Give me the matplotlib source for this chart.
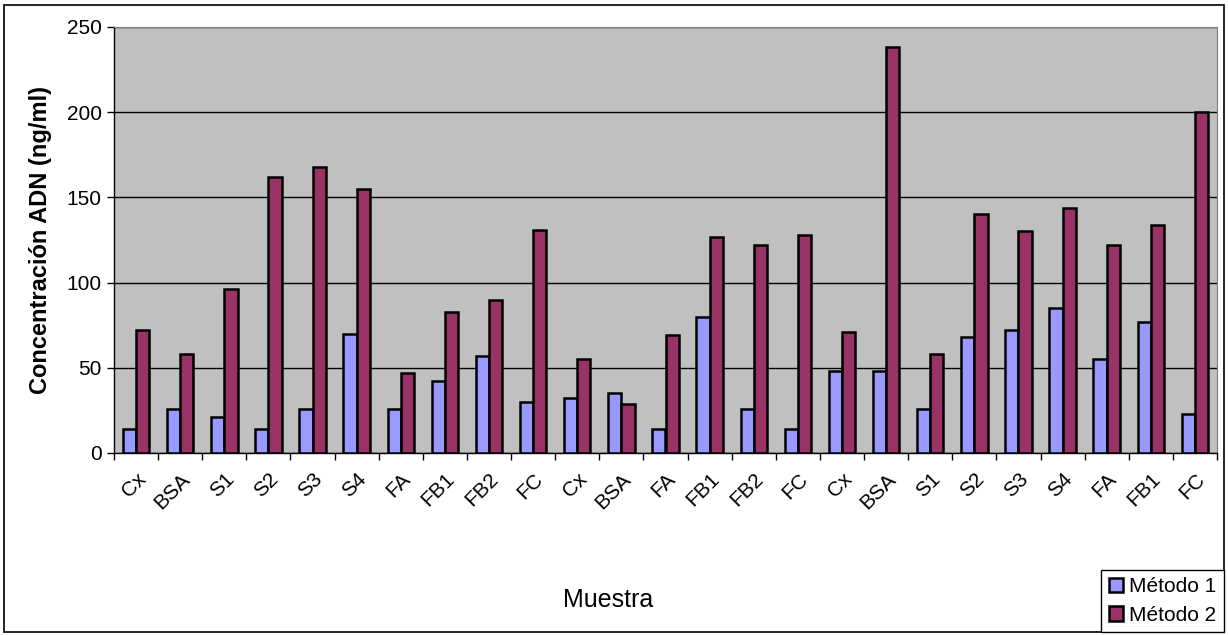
import matplotlib.pyplot as plt
import numpy as np
from matplotlib.patches import Rectangle

plt.rcParams['font.family'] = ['Liberation Sans', 'DejaVu Sans']

muestras = ['Cx', 'BSA', 'S1', 'S2', 'S3', 'S4', 'FA', 'FB1', 'FB2', 'FC',
            'Cx', 'BSA', 'FA', 'FB1', 'FB2', 'FC',
            'Cx', 'BSA', 'S1', 'S2', 'S3', 'S4', 'FA', 'FB1', 'FC']
metodo1 = [14, 26, 21, 14, 26, 70, 26, 42, 57, 30,
           32, 35, 14, 80, 26, 14,
           48, 48, 26, 68, 72, 85, 55, 77, 23]
metodo2 = [72, 58, 96, 162, 168, 155, 47, 83, 90, 131,
           55, 29, 69, 127, 122, 128,
           71, 238, 58, 140, 130, 144, 122, 134, 200]

fig = plt.figure(figsize=(12.28, 6.35), dpi=100)
ax = fig.add_axes([114 / 1228, 1 - 453 / 635, 1103 / 1228, 426 / 635])
ax.set_facecolor('#C0C0C0')

x = np.arange(len(muestras))
w = 0.3
ax.bar(x - w / 2, metodo1, w, color='#9999FF', edgecolor='black', linewidth=1.8,
       label='Método 1', zorder=3)
ax.bar(x + w / 2, metodo2, w, color='#993366', edgecolor='black', linewidth=1.8,
       label='Método 2', zorder=3)

ax.set_xlim(-0.5, len(muestras) - 0.5)
ax.set_ylim(0, 250)
ax.set_yticks(np.arange(0, 251, 50))
ax.yaxis.grid(True, color='black', linewidth=1)
ax.set_axisbelow(True)

ax.set_xticks(x)
ax.set_xticklabels(muestras, rotation=45, ha='right', rotation_mode='anchor', fontsize=15)
ax.set_xticks(np.arange(-0.5, len(muestras), 1), minor=True)
ax.tick_params(axis='x', which='major', length=0, pad=12)
ax.tick_params(axis='x', which='minor', length=5, width=1, direction='out')
ax.tick_params(axis='y', length=5, width=1, labelsize=15, pad=4)

for s in ['top', 'right']:
    ax.spines[s].set_color('#808080')
ax.spines['left'].set_linewidth(1)
ax.spines['bottom'].set_linewidth(1)

ax.set_ylabel('Concentración ADN (ng/ml)', fontsize=17, fontweight='bold', labelpad=10)
fig.text(608 / 1228, 1 - 600 / 635, 'Muestra', fontsize=18, ha='center', va='center')

leg = fig.legend(loc='lower right', bbox_to_anchor=(1224 / 1228, 3 / 635), fontsize=15,
                 handlelength=0.7, handleheight=0.7, handletextpad=0.3,
                 fancybox=False, framealpha=1, edgecolor='black', borderpad=0.35,
                 labelspacing=0.45, borderaxespad=0)
leg.get_frame().set_linewidth(1)

fig.patches.append(Rectangle((4 / 1228, 3 / 635), 1220 / 1228, 627 / 635,
                             transform=fig.transFigure, fill=False,
                             edgecolor='black', linewidth=1.2))

plt.savefig('out.png')
